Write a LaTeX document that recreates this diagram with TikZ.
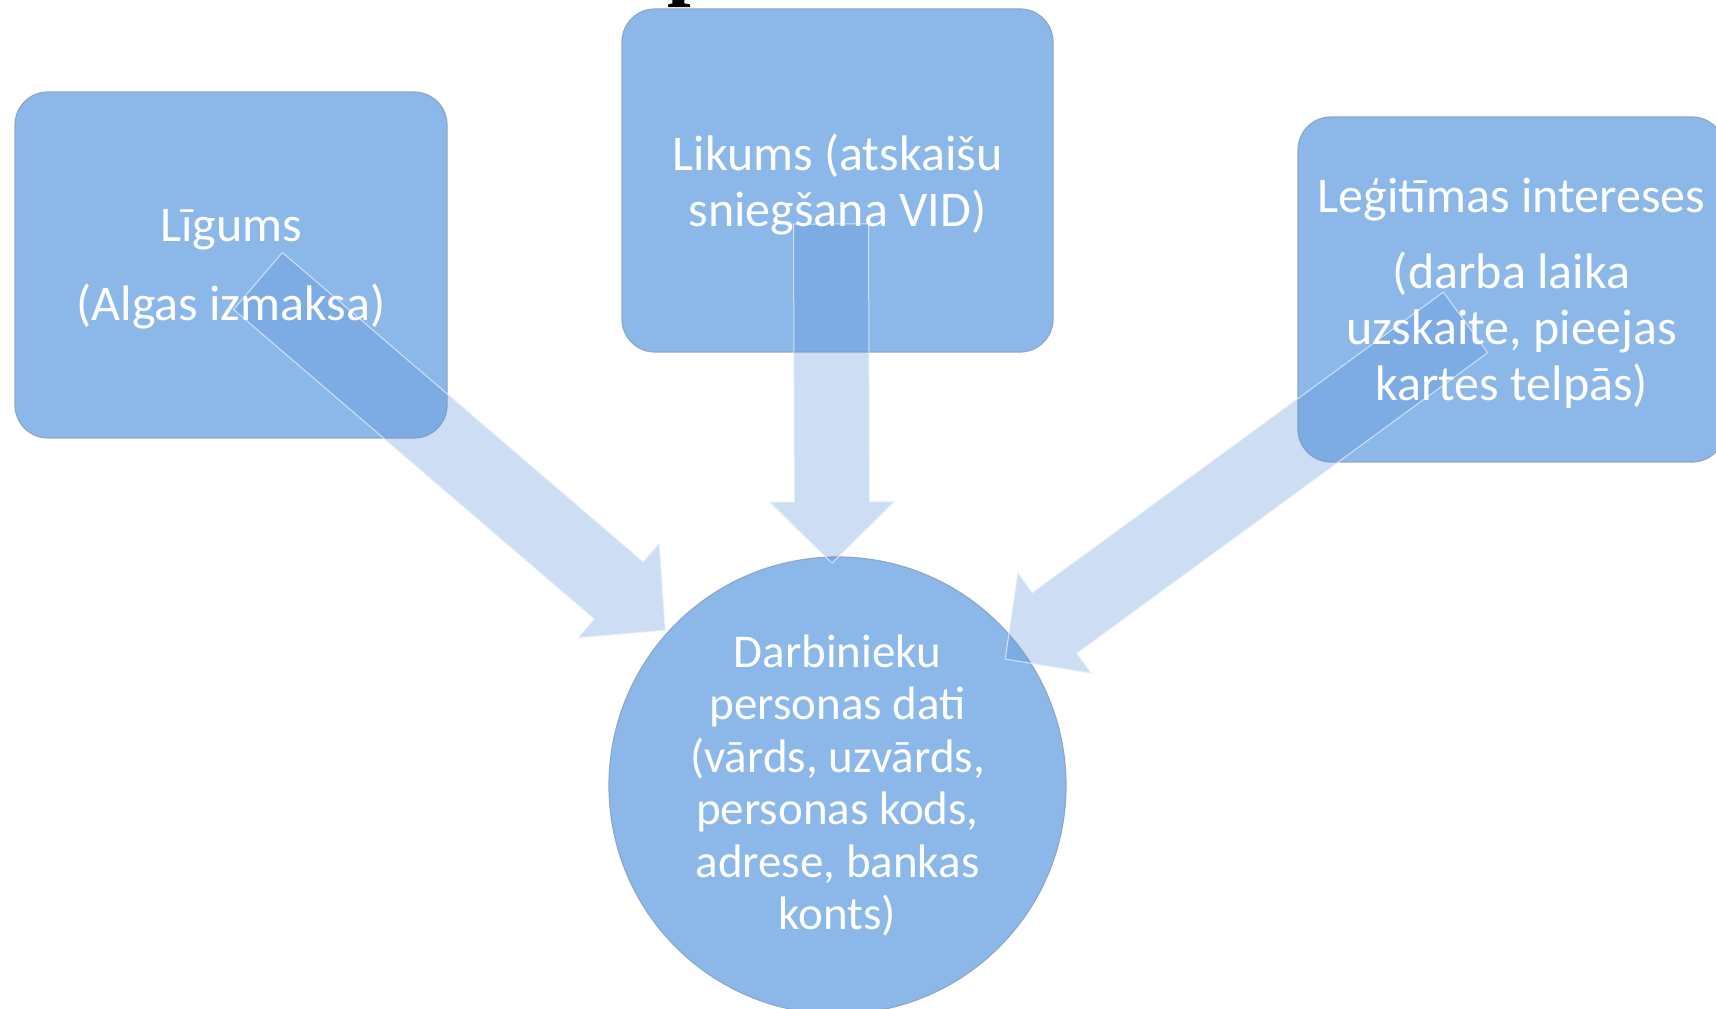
\documentclass[tikz,border=0pt]{standalone}
\usepackage{fontspec}
\setmainfont{Carlito}
\newfontfamily\titlefont{Liberation Serif}
\usetikzlibrary{calc,positioning}

\definecolor{boxblue}{HTML}{8CB8E9}
\definecolor{rimgray}{HTML}{8EA7C8}
\definecolor{rimlight}{HTML}{A6D0FA}
\definecolor{arrowblue}{HTML}{5B8FD9}
\definecolor{arrowrim}{HTML}{E6EEFA}

\tikzset{
  basis/.style={fill=boxblue, draw=rimgray, line width=1.2pt, inner sep=0pt, outer sep=0pt},
  databox/.style={basis, rectangle, rounded corners=33pt},
  datacircle/.style={basis, circle, minimum size=457pt},
  boxtext/.style={text=white, align=center, inner sep=0pt, yshift=-4pt, font=\fontsize{50}{56}\selectfont},
  circletext/.style={text=white, align=center, inner sep=0pt, font=\fontsize{47}{52.5}\selectfont},
  blockarrow/.style={fill=arrowblue, fill opacity=0.3, draw=arrowrim, draw opacity=0.8, line width=1pt, line join=miter}
}

% broad arrow from #1 (tail) to #2 (tip)
\newcommand{\bigarrow}[2]{%
  \path ($(#2)!61pt!(#1)$) coordinate (ba-b);
  \draw[blockarrow] ($(#1)!37.5pt!90:(#2)$) -- ($(ba-b)!37.5pt!90:(#2)$) -- ($(ba-b)!62pt!90:(#2)$)
    -- (#2) -- ($(ba-b)!62pt!-90:(#2)$) -- ($(ba-b)!37.5pt!-90:(#2)$) -- ($(#1)!37.5pt!-90:(#2)$) -- cycle;
}

\begin{document}
\begin{tikzpicture}[x=1pt, y=1pt]
  \useasboundingbox (0,0) rectangle (1716,1009);

  % cut-off title above
  \node[anchor=base west, inner sep=0pt, font=\titlefont\bfseries\fontsize{85}{90}\selectfont] (title) at (667,1019) {p};

  % shapes
  \node[databox, minimum width=432pt, minimum height=346pt] (ligums) at (231,744) {};
  \node[databox, minimum width=431pt, minimum height=343pt] (likums) at (837.5,828.5) {};
  \node[databox, minimum width=427pt, minimum height=345pt] (intereses) at (1511.5,719.5) {};
  \node[datacircle] (dati) at (837.5,223.5) {};

  % arrow ends
  \coordinate (tailA) at ($(ligums.center)+(27,-16)$);
  \coordinate (tailB) at ($(likums.center)+(-6.5,-43.5)$);
  \coordinate (tailC) at ($(intereses.center)+(-46,-33)$);
  \coordinate (tipA) at ($(dati.center)+(138:232pt)$);
  \coordinate (tipB) at ($(dati.center)+(91.4:222.5pt)$);
  \coordinate (tipC) at ($(dati.center)+(37:210pt)$);

  \bigarrow{tailA}{tipA}
  \bigarrow{tailB}{tipB}
  \bigarrow{tailC}{tipC}

  % texts on top
  \node[boxtext] (ligums-t) at (ligums) {Līgums\\[23pt](Algas izmaksa)};
  \node[boxtext] (likums-t) at (likums) {Likums (atskaišu\\sniegšana VID)};
  \node[boxtext] (intereses-t) at (intereses)
    {Leģitīmas intereses\\[20pt](darba laika\\uzskaite, pieejas\\kartes telpās)};
  \node[circletext] (dati-t) at (dati)
    {Darbinieku\\personas dati\\(vārds, uzvārds,\\personas kods,\\adrese, bankas\\konts)};
\end{tikzpicture}
\end{document}
